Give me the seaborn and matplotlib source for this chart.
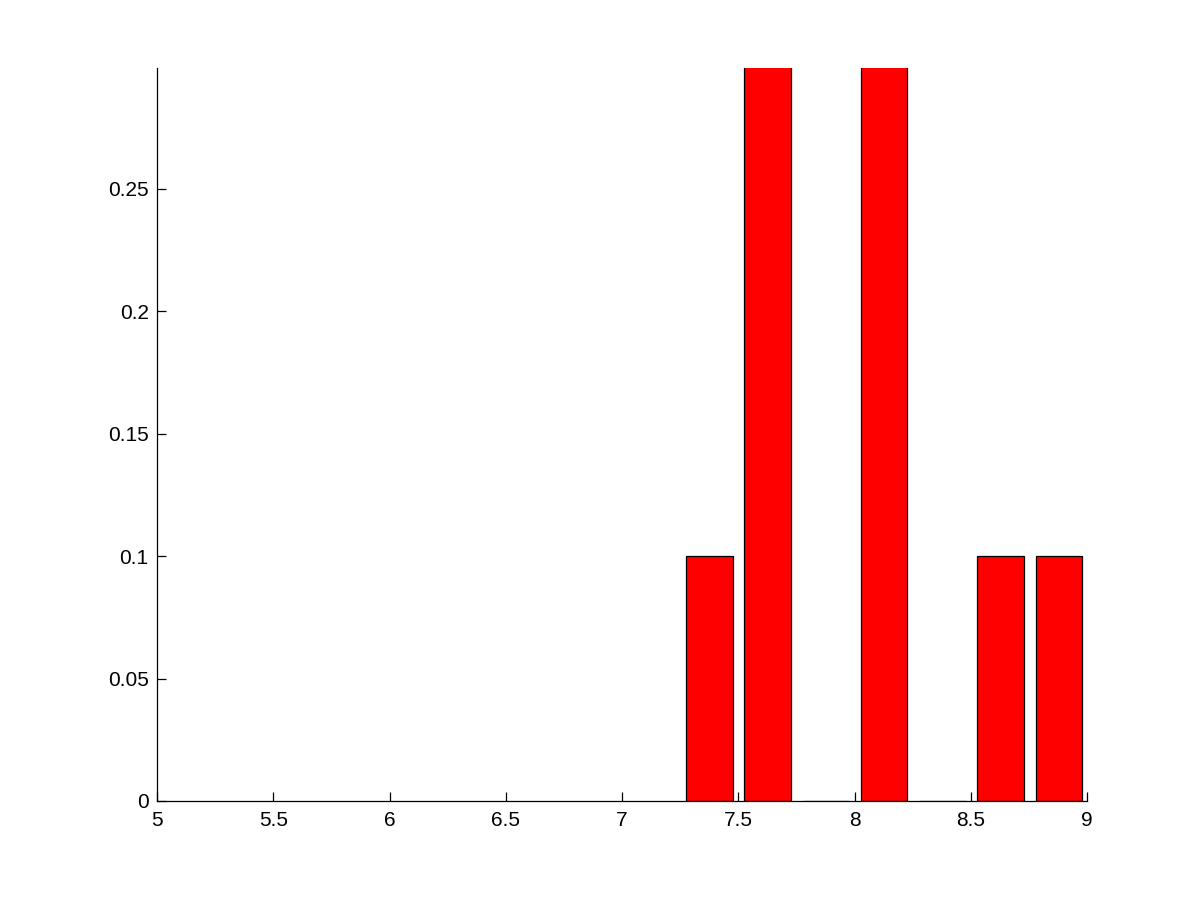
#!/usr/bin/env python
# histogram of values, MATLAB-like look

import matplotlib

matplotlib.use("Agg")
import matplotlib.pyplot as plt
import pandas as pd
import seaborn as sns

# bin centers and relative frequency
bin_centers = [7.375, 7.626, 7.876, 8.127, 8.378, 8.628, 8.879]
frequency = [0.1, 0.3, 0.0, 0.3, 0.0, 0.1, 0.1]
y_ticks = [0, 0.05, 0.1, 0.15, 0.2, 0.25]
y_tick_labels = ["0", "0.05", "0.1", "0.15", "0.2", "0.25"]
x_ticks = [5, 5.5, 6, 6.5, 7, 7.5, 8, 8.5, 9]
x_tick_labels = ["5", "5.5", "6", "6.5", "7", "7.5", "8", "8.5", "9"]


def main():
    sns.set_style("ticks")
    plt.rcParams["font.family"] = ["Liberation Sans", "DejaVu Sans"]
    plt.rcParams["font.size"] = 10

    df = pd.DataFrame({"center": bin_centers, "freq": frequency})

    fig = plt.figure(figsize=(1201 / 150, 901 / 150), dpi=150)
    ax = fig.add_axes([0.1307, 0.111, 0.7745, 0.8135])
    sns.barplot(
        data=df,
        x="center",
        y="freq",
        native_scale=True,
        width=0.8,
        color="#ff0000",
        saturation=1,
        edgecolor="black",
        linewidth=0.6,
        ax=ax,
    )

    ax.set_xlim(5, 9)
    # top of the axes cuts the tallest bars, as in the original
    ax.set_ylim(0, 0.2992)
    ax.set_xticks(x_ticks)
    ax.set_xticklabels(x_tick_labels)
    ax.set_yticks(y_ticks)
    ax.set_yticklabels(y_tick_labels)
    ax.set_xlabel("")
    ax.set_ylabel("")

    for side in ["top", "right"]:
        ax.spines[side].set_visible(False)
    for side in ["left", "bottom"]:
        ax.spines[side].set_linewidth(0.6)
        ax.spines[side].set_color("black")
    ax.tick_params(direction="in", length=4.5, width=0.6, colors="black", labelsize=10)
    ax.tick_params(axis="x", pad=5)
    ax.tick_params(axis="y", pad=4)

    fig.savefig("out.png", dpi=150, facecolor="white")
    plt.close(fig)


if __name__ == "__main__":
    main()
